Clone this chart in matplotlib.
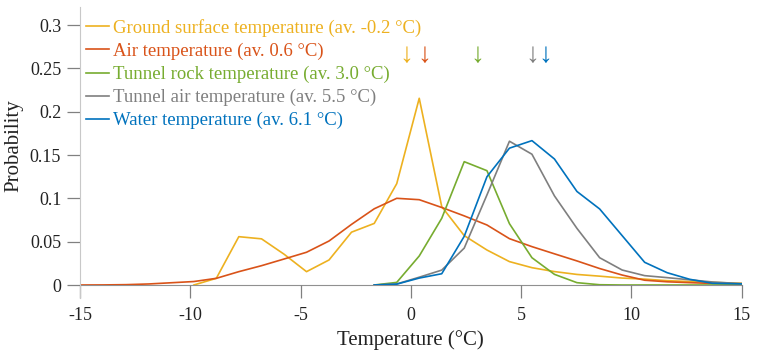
import matplotlib
matplotlib.use("Agg")
import matplotlib.pyplot as plt
import numpy as np

plt.rcParams['font.family'] = ['Liberation Serif', 'DejaVu Sans']

# x positions (°C)
temperature = [-14.95, -13.93, -12.91, -11.88, -10.86, -9.84, -8.82, -7.80, -6.77, -5.75,
               -4.73, -3.71, -2.69, -1.66, -0.64, 0.38, 1.40, 2.42, 3.45, 4.47,
               5.49, 6.51, 7.53, 8.56, 9.58, 10.60, 11.62, 12.64, 13.67, 14.69, 15.71]
nan = float('nan')
ground_surface = [nan, nan, nan, nan, nan, 0.0, 0.0077, 0.0558, 0.0533, 0.0356,
                  0.0154, 0.0289, 0.061, 0.0711, 0.117, 0.2156, 0.0905, 0.057, 0.0404, 0.027,
                  0.0200, 0.0155, 0.0122, 0.0102, 0.008, 0.0068, 0.005, 0.004, 0.003, 0.0022, 0.0015]
air = [0.0, 0.0001, 0.0004, 0.0012, 0.0026, 0.0040, 0.0077, 0.0154, 0.0223, 0.030,
       0.0378, 0.0508, 0.070, 0.088, 0.1001, 0.0985, 0.0895, 0.0798, 0.0693, 0.0535,
       0.0443, 0.0360, 0.0278, 0.019, 0.0115, 0.0055, 0.0037, 0.0027, 0.0018, 0.001, 0.0005]
tunnel_rock = [nan, nan, nan, nan, nan, nan, nan, nan, nan, nan,
               nan, nan, nan, 0.0, 0.003, 0.0335, 0.077, 0.1424, 0.132, 0.0708,
               0.0315, 0.0123, 0.0027, 0.0003, 0.0, 0.0, 0.0, 0.0, 0.0, 0.0, 0.0]
tunnel_air = [nan, nan, nan, nan, nan, nan, nan, nan, nan, nan,
              nan, nan, nan, 0.0, 0.0012, 0.009, 0.0172, 0.0426, 0.104, 0.166,
              0.151, 0.1029, 0.0654, 0.0315, 0.0173, 0.0108, 0.0085, 0.006, 0.0035, 0.002, 0.001]
water = [nan, nan, nan, nan, nan, nan, nan, nan, nan, nan,
         nan, nan, nan, 0.0, 0.001, 0.008, 0.013, 0.0562, 0.125, 0.158,
         0.1667, 0.1455, 0.108, 0.0878, 0.057, 0.0262, 0.0142, 0.0066, 0.002, 0.0015, 0.0008]

series_names = ["Ground surface temperature", "Air temperature", "Tunnel rock temperature",
                "Tunnel air temperature", "Water temperature"]
averages = [-0.2, 0.6, 3.0, 5.5, 6.1]
colors = ["#EDB120", "#D95319", "#77AC30", "#7F7F7F", "#0072BD"]
series = [ground_surface, air, tunnel_rock, tunnel_air, water]

fig = plt.figure(figsize=(7.57, 3.58), dpi=100)
ax = fig.add_axes([80/757, 1-285/358, (741.7-80)/757, (285-7)/358])

for vals, name, av, c in zip(series, series_names, averages, colors):
    ax.plot(temperature, vals, color=c, lw=1.2, label=f"{name} (av. {av:.1f} °C)")
    ax.text(av, 0.265, "↓", color=c, fontsize=20, ha='center', va='center')

ax.set_xlim(-15, 15)
ax.set_ylim(0, 0.321)
ax.set_xticks([-15, -10, -5, 0, 5, 10, 15])
ax.set_xticklabels(["-15", "-10", "-5", "0", "5", "10", "15"])
ax.set_yticks([0, 0.05, 0.1, 0.15, 0.2, 0.25, 0.3])
ax.set_yticklabels(["0", "0.05", "0.1", "0.15", "0.2", "0.25", "0.3"])
ax.tick_params(direction='out', length=9.5, width=0.9, color='#808080',
               labelsize=13, pad=4, labelcolor='#222222')
ax.tick_params(axis='x', pad=6)
for s in ['top', 'right']:
    ax.spines[s].set_visible(False)
ax.spines['left'].set_color('#c8c8c8')
ax.spines['bottom'].set_color('#909090')
ax.spines['left'].set_bounds(-0.0155, 0.321)
ax.spines['bottom'].set_zorder(0.5)

ax.set_xlabel("Temperature (°C)", fontsize=15, color='#222222', labelpad=5)
ax.set_ylabel("Probability", fontsize=15, color='#222222', labelpad=5)

leg = ax.legend(loc='upper left', bbox_to_anchor=(86/757, 1-19/358),
                bbox_transform=fig.transFigure, frameon=False, fontsize=13.5,
                handlelength=1.2, handletextpad=0.25, labelspacing=0.31,
                borderpad=0, borderaxespad=0, labelcolor='linecolor')

fig.savefig("out.png", dpi=100)
